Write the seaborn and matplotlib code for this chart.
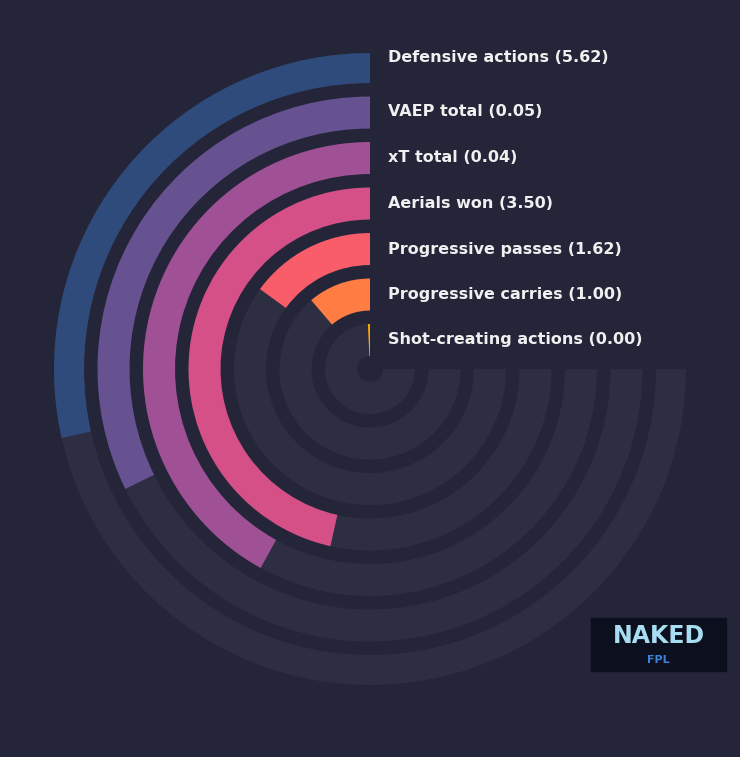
import numpy as np
import matplotlib
matplotlib.use("Agg")
import matplotlib.pyplot as plt
import seaborn as sns

metrics = ["Shot-creating actions", "Progressive carries", "Progressive passes",
           "Aerials won", "xT total", "VAEP total", "Defensive actions"]
values = [0.00, 1.00, 1.62, 3.50, 0.04, 0.05, 5.62]
fractions = [0.01, 0.15, 0.20, 0.62, 0.56, 0.43, 0.38]
colors = ["#ffa600", "#ff7c43", "#f95d6a", "#d45087", "#a05195", "#665191", "#2f4b7c"]

sns.set_theme(style="white")
plt.rcParams['font.family'] = ['DejaVu Sans']
BG = "#252539"
TRACK = "#2e2e42"

fig = plt.figure(figsize=(7.4, 7.57), dpi=100, facecolor=BG)
ax = fig.add_axes([0.073, 0.095, 0.854, 0.835], projection="polar")
ax.set_facecolor(BG)
ax.set_theta_zero_location("N")
ax.set_theta_direction(1)
ax.set_ylim(0, 316)
ax.set_axis_off()

inner, pitch, width = 13, 45.5, 32
full = np.deg2rad(270)
label_y = [340, 295, 249, 204, 158, 112, 58]
for i, (m, v, f, c) in enumerate(zip(metrics, values, fractions, colors)):
    rc = inner + pitch * i + width / 2
    ax.barh(rc, full, left=0, height=width, color=TRACK, align="center", linewidth=0)
    ax.barh(rc, f * full, left=0, height=width, color=c, align="center", linewidth=0)
    fig.text(388 / 740, 1 - label_y[i] / 757, f"{m} ({v:.2f})", color="#f0f0f0",
             fontsize=11.5, fontweight="bold", va="center", ha="left")

# logo
lx, ly, lw, lh = 591 / 740, 1 - 671 / 757, 135 / 740, 53 / 757
fig.patches.append(plt.Rectangle((lx, ly), lw, lh, transform=fig.transFigure,
                                 color="#0b0f1e", zorder=5))
fig.text(lx + lw / 2, ly + lh * 0.66, "NAKED", color="#a8dcf0", fontsize=17,
         fontweight="bold", ha="center", va="center", zorder=6)
fig.text(lx + lw / 2, ly + lh * 0.2, "FPL", color="#3b82d8", fontsize=8,
         fontweight="bold", ha="center", va="center", zorder=6)

fig.savefig("out.png", dpi=100, facecolor=BG)
